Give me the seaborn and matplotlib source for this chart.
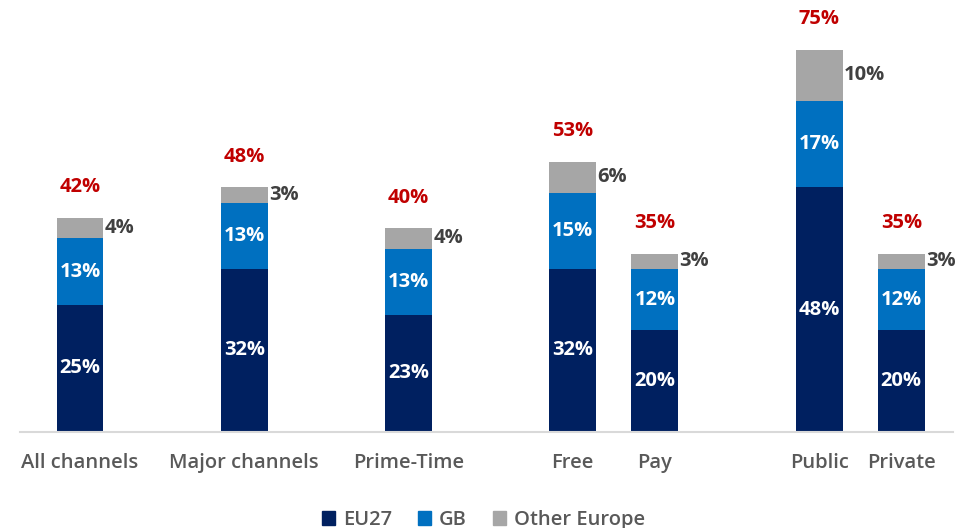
import matplotlib
matplotlib.use("Agg")
import matplotlib.pyplot as plt
from matplotlib.patches import Patch
import seaborn as sns
import pandas as pd
import numpy as np

categories = ["All channels", "Major channels", "Prime-Time", "Free", "Pay", "Public", "Private"]
positions = [0, 2, 4, 6, 7, 9, 10]
eu27 = [25, 32, 23, 32, 20, 48, 20]
gb = [13, 13, 13, 15, 12, 17, 12]
other = [4, 3, 4, 6, 3, 10, 3]
totals = [42, 48, 40, 53, 35, 75, 35]

C_EU = "#002060"
C_GB = "#0070C0"
C_OT = "#A6A6A6"
C_RED = "#C00000"
C_TXT = "#595959"

sns.set_theme(style="white")
plt.rcParams["font.family"] = ["Open Sans", "DejaVu Sans"]

df = pd.DataFrame({
    "pos": positions,
    "eu": eu27,
    "gb": gb,
    "other": other,
})
df["eu_gb"] = df["eu"] + df["gb"]
df["all"] = df["eu_gb"] + df["other"]

fig = plt.figure(figsize=(9.67, 5.28), dpi=100)
ax = fig.add_axes([20 / 967, 96 / 528, 933 / 967, 432 / 528])

W = 0.57
# stacked bars drawn back to front from cumulative heights
for col, color in [("all", C_OT), ("eu_gb", C_GB), ("eu", C_EU)]:
    sns.barplot(data=df, x="pos", y=col, native_scale=True, width=W,
                color=color, saturation=1, linewidth=0, errorbar=None, ax=ax)

ax.set_xlim(-0.73, 10.63)
ax.set_ylim(0, 84.8)
ax.set_xticks(positions)
ax.set_xticklabels(categories)
ax.set_yticks([])
ax.set_xlabel("")
ax.set_ylabel("")
ax.tick_params(axis="x", length=0, pad=15, labelsize=14.5, labelcolor=C_TXT)
for lbl in ax.get_xticklabels():
    lbl.set_fontweight("semibold")
for s in ["top", "left", "right"]:
    ax.spines[s].set_visible(False)
ax.spines["bottom"].set_color("#D9D9D9")
ax.spines["bottom"].set_linewidth(1.5)

lab_kw = dict(fontsize=14.5, fontweight="bold")
for p, e, g, o, t in zip(positions, eu27, gb, other, totals):
    ax.text(p, e / 2, f"{e}%", ha="center", va="center", color="white", **lab_kw)
    ax.text(p, e + g / 2, f"{g}%", ha="center", va="center", color="white", **lab_kw)
    ax.annotate(f"{o}%", xy=(p + W / 2, e + g + o / 2), xytext=(1, 0),
                textcoords="offset points", ha="left", va="center",
                color="#404040", **lab_kw)
    ax.annotate(f"{t}%", xy=(p, e + g + o), xytext=(0, 22),
                textcoords="offset points", ha="center", va="center",
                color=C_RED, **lab_kw)

handles = [Patch(color=C_EU, label="EU27"), Patch(color=C_GB, label="GB"),
           Patch(color=C_OT, label="Other Europe")]
leg = fig.legend(handles=handles, loc="lower center", bbox_to_anchor=(0.5, -0.038),
                 ncol=3, frameon=False, handlelength=0.65, handleheight=0.65,
                 handletextpad=0.4, columnspacing=1.3,
                 prop={"size": 14.5, "weight": "semibold"})
for t in leg.get_texts():
    t.set_color(C_TXT)

fig.savefig("out.png", dpi=100)
